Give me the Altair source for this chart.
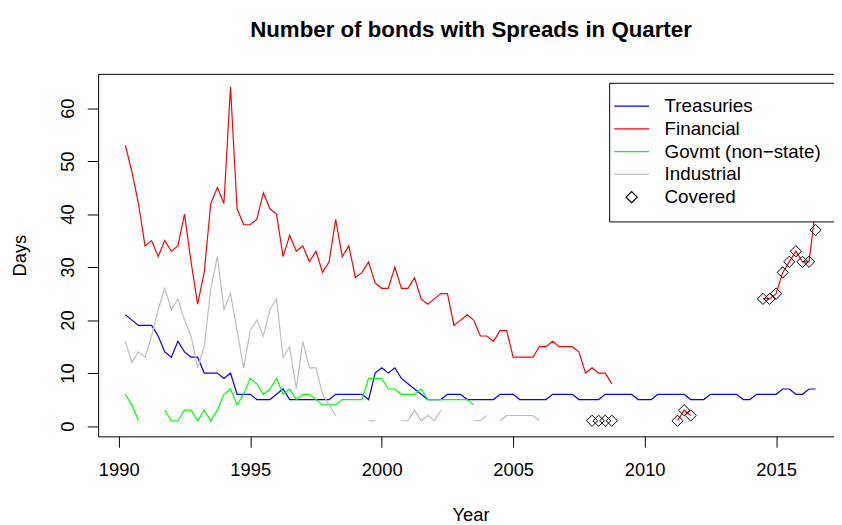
import altair as alt
import pandas as pd

# Quarterly observations, first quarter = 1990.25, step 0.25 year
first_quarter = 1990.25
quarter_step = 0.25

treasuries = [21, 20, 19, 19, 19, 17, 14, 13, 16, 14, 13, 13, 10, 10, 10, 9, 10, 6, 6, 6,
              5, 5, 5, 6, 7, 5, 5, 5, 5, 5, 5, 5, 6, 6, 6, 6, 6, 5, 10, 11,
              10, 11, 9, 8, 7, 6, 5, 5, 5, 6, 6, 6, 5, 5, 5, 5, 5, 6, 6, 6,
              5, 5, 5, 5, 5, 6, 6, 6, 6, 5, 5, 5, 5, 6, 6, 6, 6, 6, 5, 5,
              5, 6, 6, 6, 6, 6, 5, 5, 5, 6, 6, 6, 6, 6, 5, 5, 6, 6, 6, 6,
              7, 7, 6, 6, 7, 7]

financial = [53, 48, 42, 34, 35, 32, 35, 33, 34, 40, 31, 23, 29, 42, 45, 42, 64, 41, 38, 38,
             39, 44, 41, 40, 32, 36, 33, 34, 31, 33, 29, 31, 39, 32, 34, 28, 29, 31, 27, 26,
             26, 30, 26, 26, 28, 24, 23, 24, 25, 25, 19, 20, 21, 20, 17, 17, 16, 18, 18, 13,
             13, 13, 13, 15, 15, 16, 15, 15, 15, 14, 10, 11, 10, 10, 8, None, None, None, None, None,
             None, None, None, None, 1, 3, 2, None, None, None, None, None, None, None, None, None,
             None, 24, 24, 25, 29, 31, 33, 31, 31, 41]

govmt = [6, 4, 1, None, None, None, 3, 1, 1, 3, 3, 1, 3, 1, 3, 6, 7, 4, 6, 9,
         8, 6, 7, 9, 6, 7, 5, 6, 6, 5, 4, 4, 4, 5, 5, 5, 5, 9, 9, 9,
         7, 7, 6, 6, 6, 7, 5, 5, 5, 5, 5, 5, 5, 4]

industrial = [16, 12, 14, 13, 17, 22, 26, 22, 24, 20, 17, 11, 15, 26, 32, 22, 25, 18, 11, 18,
              20, 17, 22, 24, 13, 15, 7, 16, 11, 11, 6, 4, 2, None, None, None, None, 1, 1, None,
              None, None, 1, 1, 3, 1, 2, 1, 3, None, None, None, None, 1, 1, 2, None, 1, 2, 2,
              2, 2, 2, 1]

covered_years = [2008.0, 2008.25, 2008.5, 2008.75, 2011.25, 2011.5, 2011.75,
                 2014.5, 2014.75, 2015.0, 2015.25, 2015.5, 2015.75, 2016.0, 2016.25, 2016.5]
covered_values = [1, 1, 1, 1, 1, 3, 2, 24, 24, 25, 29, 31, 33, 31, 31, 37]

series_names = ["Treasuries", "Financial", "Govmt (non\u2212state)", "Industrial", "Covered"]
series_colors = ["#0000FF", "#FF0000", "#00FF00", "#BEBEBE", "#000000"]
legend_shapes = ["M-3.1,0L3.1,0", "M-3.1,0L3.1,0", "M-3.1,0L3.1,0", "M-3.1,0L3.1,0", "diamond"]

x_ticks = [1990, 1995, 2000, 2005, 2010, 2015]
y_ticks = [0, 10, 20, 30, 40, 50, 60]


def to_rows(name, values):
    rows = []
    run = 0
    prev = False
    for k, v in enumerate(values):
        if v is None:
            if prev:
                run += 1
            prev = False
            continue
        rows.append({"year": first_quarter + quarter_step * k, "value": v,
                     "series": name, "run": f"{name}-{run}"})
        prev = True
    return rows


line_rows = []
for nm, vals in zip(series_names[:4], [treasuries, financial, govmt, industrial]):
    line_rows += to_rows(nm, vals)
line_df = pd.DataFrame(line_rows)

cov_df = pd.DataFrame({"year": covered_years, "value": covered_values,
                       "series": ["Covered"] * len(covered_years)})

FONT = "Liberation Sans"

# plot region runs past the right edge of the picture (as in the reference)
x_scale = alt.Scale(domain=[1989.216, 2017.2], nice=False, zero=False)
y_scale = alt.Scale(domain=[-1.94, 66.47], nice=False, zero=False)
color_scale = alt.Scale(domain=series_names, range=series_colors)
shape_scale = alt.Scale(domain=series_names, range=legend_shapes)

x_axis = alt.Axis(orient="bottom", values=x_ticks, format="d", title="Year", grid=False,
                  domain=True, domainColor="black", domainWidth=1,
                  tickSize=11, tickColor="black", labelPadding=14, labelFlush=False,
                  labelOverlap=False, labelFontSize=18.5, labelFont=FONT, labelColor="black",
                  titleFontSize=18.5, titleFont=FONT, titleFontWeight="normal", titleColor="black",
                  titleX=376, titleY=79, titleAlign="center", titleBaseline="middle")
x_axis_top = alt.Axis(orient="top", values=x_ticks, title=None, grid=False, labels=False,
                      ticks=False, domain=True, domainColor="black", domainWidth=1)
y_axis = alt.Axis(orient="left", values=y_ticks, title="Days", grid=False,
                  domain=True, domainColor="black", domainWidth=1,
                  tickSize=11, tickColor="black", labelPadding=14, labelAngle=270,
                  labelAlign="center", labelBaseline="alphabetic", labelOverlap=False,
                  labelFontSize=18.5, labelFont=FONT, labelColor="black",
                  titleFontSize=18.5, titleFont=FONT, titleFontWeight="normal", titleColor="black",
                  titleX=-79, titleY=183, titleAngle=270, titleAlign="center",
                  titleBaseline="middle")

legend = alt.Legend(title=None, orient="none", legendX=516, legendY=9, direction="vertical",
                    padding=14, fillColor="white", strokeColor="black",
                    labelFontSize=19, labelFont=FONT, labelColor="black",
                    symbolStrokeWidth=1.2, symbolSize=128, symbolOffset=-0.8, labelOffset=23.7,
                    rowPadding=3)

lines = alt.Chart(line_df).mark_line(strokeWidth=1.2).encode(
    x=alt.X("year:Q", scale=x_scale, axis=x_axis),
    y=alt.Y("value:Q", scale=y_scale, axis=y_axis),
    color=alt.Color("series:N", scale=color_scale, legend=legend),
    detail="run:N",
)

points = alt.Chart(cov_df).mark_point(filled=False, size=128, strokeWidth=1, opacity=1).encode(
    x=alt.X("year:Q", scale=x_scale, axis=x_axis_top),
    y=alt.Y("value:Q", scale=y_scale, axis=y_axis),
    color=alt.Color("series:N", scale=color_scale, legend=legend),
    shape=alt.Shape("series:N", scale=shape_scale, legend=legend),
)

chart = alt.layer(lines, points).properties(
    width=743, height=366,
    autosize=alt.AutoSizeParams(type="none"),
    padding={"left": 91, "top": 64, "right": 0, "bottom": 87},
    title=alt.TitleParams("Number of bonds with Spreads in Quarter", fontSize=22.5, font=FONT,
                          fontWeight="bold", anchor="middle", offset=33, dx=5, color="black"),
).configure(background="white").configure_view(stroke="transparent", strokeWidth=0)

chart.save("out.html", embed_options={"renderer": "svg", "actions": False})
